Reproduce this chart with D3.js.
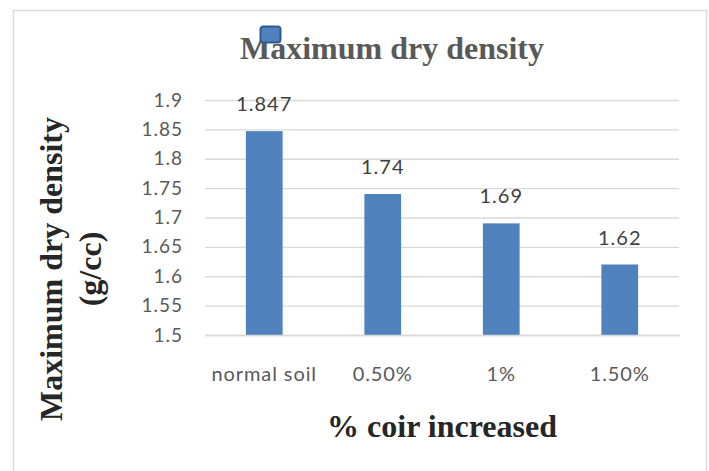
<!DOCTYPE html>
<html>
<head>
<meta charset="utf-8">
<script src="https://cdn.jsdelivr.net/npm/d3@7"></script>
<style>
  html, body { margin: 0; padding: 0; background: #fff; }
  svg { display: block; }
</style>
</head>
<body>
<div id="chart"></div>
<script>
// chart data
var categories = ["normal soil", "0.50%", "1%", "1.50%"];
var mdd = [1.847, 1.74, 1.69, 1.62];
var valueLabels = ["1.847", "1.74", "1.69", "1.62"];
var yTicks = [1.5, 1.55, 1.6, 1.65, 1.7, 1.75, 1.8, 1.85, 1.9];

var W = 709, H = 471;
var plotLeft = 205, plotRight = 679, plotTop = 100, plotBottom = 335;
var barColor = '#4f81bd';
var sans = 'Lato, "Open Sans", sans-serif';
var serif = '"Liberation Serif", "Times New Roman", serif';

var svg = d3.select('#chart').append('svg')
  .attr('width', W)
  .attr('height', H);

// outer frame (bottom edge runs off the picture)
svg.append('rect')
  .attr('x', 13.5).attr('y', 10.5)
  .attr('width', 693).attr('height', 480)
  .attr('fill', 'none')
  .attr('stroke', '#d9d9d9')
  .attr('stroke-width', 1.5);

var x = d3.scaleBand()
  .domain(categories)
  .range([plotLeft, plotRight])
  .paddingInner(0.69)
  .paddingOuter(0.345);

var y = d3.scaleLinear()
  .domain([1.5, 1.9])
  .range([plotBottom, plotTop]);

// gridlines + tick labels
var yAxis = d3.axisLeft(y)
  .tickValues(yTicks)
  .tickSize(-(plotRight - plotLeft))
  .tickPadding(22)
  .tickFormat(function(d){ return String(+d.toFixed(2)); });

var gy = svg.append('g')
  .attr('transform', 'translate(' + plotLeft + ',0)')
  .call(yAxis);
gy.select('.domain').remove();
gy.selectAll('.tick line').attr('stroke', '#d9d9d9').attr('stroke-width', 1.3);
gy.selectAll('.tick text')
  .attr('fill', '#595959')
  .style('font-family', sans)
  .style('font-size', '19px')
  .style('letter-spacing', '1px');

// bars
svg.selectAll('.bar')
  .data(mdd)
  .enter().append('rect')
  .attr('class', 'bar')
  .attr('x', function(d, i){ return x(categories[i]); })
  .attr('y', function(d){ return y(d); })
  .attr('width', x.bandwidth())
  .attr('height', function(d){ return y(1.5) - y(d); })
  .attr('fill', barColor);

// value labels
svg.selectAll('.vlabel')
  .data(mdd)
  .enter().append('text')
  .attr('class', 'vlabel')
  .attr('x', function(d, i){ return x(categories[i]) + x.bandwidth() / 2; })
  .attr('y', function(d){ return y(d) - 20; })
  .attr('text-anchor', 'middle')
  .attr('fill', '#404040')
  .style('font-family', sans)
  .style('font-size', '20px')
  .style('letter-spacing', '1px')
  .text(function(d, i){ return valueLabels[i]; });

// category labels
var xAxis = d3.axisBottom(x).tickSize(0).tickPadding(32);
var gx = svg.append('g')
  .attr('transform', 'translate(0,' + plotBottom + ')')
  .call(xAxis);
gx.select('.domain')
  .attr('stroke', '#d9d9d9')
  .attr('stroke-width', 1.5);
gx.selectAll('.tick text')
  .attr('fill', '#595959')
  .style('font-family', sans)
  .style('font-size', '20px')
  .style('letter-spacing', '0.9px');

// titles
svg.append('text')
  .attr('x', 392)
  .attr('y', 59)
  .attr('text-anchor', 'middle')
  .attr('fill', '#595959')
  .style('font-family', serif)
  .style('font-weight', 'bold')
  .style('font-size', '32px')
  .text('Maximum dry density');

// stray legend marker over the title
svg.append('rect')
  .attr('x', 260.5).attr('y', 26.5)
  .attr('width', 20).attr('height', 16)
  .attr('rx', 3)
  .attr('fill', barColor)
  .attr('stroke', '#2f5a8f')
  .attr('stroke-width', 2);

svg.append('text')
  .attr('x', (plotLeft + plotRight) / 2)
  .attr('y', 437)
  .attr('text-anchor', 'middle')
  .attr('fill', '#262626')
  .style('font-family', serif)
  .style('font-weight', 'bold')
  .style('font-size', '32px')
  .text('% coir increased');

var yt = svg.append('text')
  .attr('transform', 'translate(62,269) rotate(-90)')
  .attr('text-anchor', 'middle')
  .attr('fill', '#262626')
  .style('font-family', serif)
  .style('font-weight', 'bold')
  .style('font-size', '32px');
yt.append('tspan').attr('x', 0).attr('y', 0).text('Maximum dry density');
yt.append('tspan').attr('x', 0).attr('y', 39).text('(g/cc)');
</script>
</body>
</html>
